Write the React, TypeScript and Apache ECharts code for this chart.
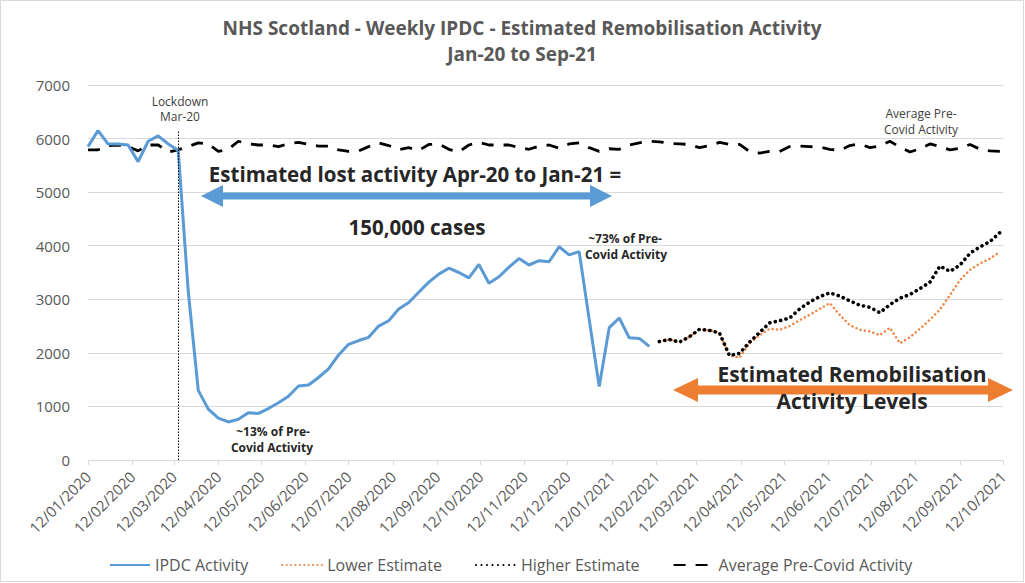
import React, { useEffect, useRef } from "react";
import * as echarts from "echarts";

// ---------- data ----------
const FIRST_WEEK = "2020-01-12";
const WEEK_COUNT = 92;
const weekDates: number[] = Array.from(
  { length: WEEK_COUNT },
  (_, i) => Date.parse(FIRST_WEEK + "T00:00:00Z") + i * 7 * 86400000
);

const monthTickLabels = [
  "12/01/2020", "12/02/2020", "12/03/2020", "12/04/2020", "12/05/2020", "12/06/2020",
  "12/07/2020", "12/08/2020", "12/09/2020", "12/10/2020", "12/11/2020", "12/12/2020",
  "12/01/2021", "12/02/2021", "12/03/2021", "12/04/2021", "12/05/2021", "12/06/2021",
  "12/07/2021", "12/08/2021", "12/09/2021", "12/10/2021",
];

const yTicks = [0, 1000, 2000, 3000, 4000, 5000, 6000, 7000];

// weekly IPDC activity (12/01/2020 .. 07/02/2021)
const ipdcActivity = [
  5850, 6150, 5900, 5900, 5880, 5570, 5950, 6050, 5900, 5780,
  3150, 1300, 950, 780, 710, 760, 880, 870, 960, 1070,
  1190, 1380, 1400, 1540, 1700, 1960, 2160, 2230, 2290, 2500,
  2600, 2820, 2940, 3130, 3320, 3470, 3580, 3500, 3400, 3650,
  3300, 3420, 3600, 3760, 3640, 3720, 3700, 3980, 3830, 3890,
  2630, 1370, 2470, 2650, 2280, 2270, 2120,
];

// weekly estimates (14/02/2021 .. 10/10/2021)
const lowerEstimate = [
  2210, 2250, 2200, 2300, 2440, 2420, 2370, 1950, 1910, 2180,
  2330, 2450, 2430, 2500, 2610, 2710, 2820, 2930, 2710, 2520,
  2430, 2400, 2330, 2470, 2180, 2290, 2450, 2620, 2810, 3080,
  3360, 3550, 3670, 3760, 3890,
];
const higherEstimate = [
  2210, 2250, 2200, 2300, 2440, 2420, 2370, 1950, 1990, 2200,
  2380, 2560, 2600, 2650, 2820, 2950, 3050, 3120, 3060, 2970,
  2890, 2850, 2750, 2900, 3020, 3090, 3200, 3320, 3620, 3520,
  3640, 3860, 3980, 4080, 4250,
];

const avgPreCovid = [
  5790, 5790, 5870, 5880, 5850, 5770, 5880, 5880, 5750, 5790,
  5850, 5920, 5900, 5760, 5800, 5950, 5900, 5880, 5880, 5850,
  5900, 5930, 5890, 5860, 5860, 5790, 5760, 5770, 5850, 5920,
  5870, 5790, 5830, 5780, 5890, 5900, 5800, 5750, 5880, 5930,
  5880, 5880, 5880, 5830, 5800, 5860, 5880, 5820, 5900, 5920,
  5830, 5760, 5810, 5800, 5880, 5920, 5950, 5940, 5910, 5900,
  5890, 5830, 5870, 5930, 5890, 5890, 5760, 5730, 5760, 5760,
  5850, 5860, 5850, 5840, 5800, 5780, 5870, 5900, 5830, 5860,
  5950, 5840, 5750, 5810, 5900, 5850, 5790, 5820, 5890, 5800,
  5770, 5760,
];

const LOCKDOWN_DATE = "2020-03-15";
const LOCKDOWN_TOP = 6150;

// ---------- helpers ----------
const parseDMY = (s: string) => {
  const [d, m, y] = s.split("/").map(Number);
  return Date.UTC(y, m - 1, d);
};
const pad = (n: number) => (n < 10 ? "0" + n : "" + n);
const fmtDMY = (t: number) => {
  const d = new Date(t);
  return pad(d.getUTCDate()) + "/" + pad(d.getUTCMonth() + 1) + "/" + d.getUTCFullYear();
};

const ipdcData = weekDates.map((t, i) => [t, i < ipdcActivity.length ? ipdcActivity[i] : null]);
const estStart = WEEK_COUNT - lowerEstimate.length;
const lowerData = weekDates.map((t, i) => [t, i >= estStart ? lowerEstimate[i - estStart] : null]);
const higherData = weekDates.map((t, i) => [t, i >= estStart ? higherEstimate[i - estStart] : null]);
const avgData = weekDates.map((t, i) => [t, avgPreCovid[i]]);

const dblArrow = (x1: number, x2: number, y: number, shaft: number, headL: number, headH: number) => [
  [x1, y],
  [x1 + headL, y - headH],
  [x1 + headL, y - shaft / 2],
  [x2 - headL, y - shaft / 2],
  [x2 - headL, y - headH],
  [x2, y],
  [x2 - headL, y + headH],
  [x2 - headL, y + shaft / 2],
  [x1 + headL, y + shaft / 2],
  [x1 + headL, y + headH],
];

const FONT = "Open Sans";
const GREY = "#595959";
const DARK = "#262626";

const txt = (x: number, y: number, text: string, size: number, bold: boolean, fill: string) => ({
  type: "text",
  x,
  y,
  z: 11,
  style: {
    text,
    fontSize: size,
    fontWeight: bold ? "bold" : "normal",
    fill,
    fontFamily: FONT,
    align: "center",
    verticalAlign: "middle",
  },
});

export default function App() {
  const ref = useRef<HTMLDivElement>(null);

  useEffect(() => {
    if (!ref.current) return;
    const chart = echarts.init(ref.current, undefined, { renderer: "svg" });
    const tickValues = monthTickLabels.map(parseDMY);
    const lockdownT = Date.parse(LOCKDOWN_DATE + "T00:00:00Z");

    chart.setOption({
      animation: false,
      backgroundColor: "#ffffff",
      textStyle: { fontFamily: FONT },
      grid: { left: 88, right: 22, top: 85, bottom: 123 },
      xAxis: {
        type: "value",
        min: tickValues[0],
        max: tickValues[tickValues.length - 1],
        axisLine: { show: true, lineStyle: { color: "#D9D9D9", width: 1 } },
        axisTick: {
          show: true,
          customValues: tickValues,
          length: 5,
          lineStyle: { color: "#D9D9D9" },
        },
        axisLabel: {
          customValues: tickValues,
          rotate: 45,
          margin: 14,
          fontSize: 15,
          color: GREY,
          fontFamily: FONT,
          formatter: (v: number) => fmtDMY(v),
        },
        splitLine: { show: false },
      },
      yAxis: {
        type: "value",
        min: yTicks[0],
        max: yTicks[yTicks.length - 1],
        interval: yTicks[1] - yTicks[0],
        axisLine: { show: false },
        axisTick: { show: false },
        axisLabel: {
          fontSize: 15,
          color: GREY,
          fontFamily: FONT,
          margin: 18,
          formatter: (v: number) => String(v),
        },
        splitLine: { lineStyle: { color: "#D9D9D9", width: 1 } },
      },
      legend: {
        bottom: 5,
        left: 104,
        itemWidth: 40,
        itemHeight: 12,
        itemGap: 33,
        itemStyle: { opacity: 0, borderWidth: 0 },
        textStyle: { fontSize: 16, color: GREY, fontFamily: FONT },
        data: ["IPDC Activity", "Lower Estimate", "Higher Estimate", "Average Pre-Covid Activity"],
      },
      series: [
        {
          name: "IPDC Activity",
          type: "line",
          data: ipdcData,
          showSymbol: false,
          symbol: "none",
          connectNulls: false,
          lineStyle: { color: "#5B9BD5", width: 3 },
          itemStyle: { color: "#5B9BD5" },
          z: 3,
          markLine: {
            silent: true,
            symbol: "none",
            label: { show: false },
            lineStyle: { color: "#000000", width: 1, type: [1.5, 1.5] },
            data: [
              [
                { coord: [lockdownT, 0] },
                { coord: [lockdownT, LOCKDOWN_TOP] },
              ],
            ],
          },
        },
        {
          name: "Lower Estimate",
          type: "line",
          data: lowerData,
          showSymbol: false,
          symbol: "none",
          lineStyle: { color: "#EE8646", width: 2.5, type: [0.1, 4.3], cap: "round" },
          itemStyle: { color: "#EE8646" },
          z: 3,
        },
        {
          name: "Higher Estimate",
          type: "line",
          data: higherData,
          showSymbol: false,
          symbol: "none",
          lineStyle: { color: "#000000", width: 3.6, type: [0.1, 5.4], cap: "round" },
          itemStyle: { color: "#000000" },
          z: 4,
        },
        {
          name: "Average Pre-Covid Activity",
          type: "line",
          data: avgData,
          showSymbol: false,
          symbol: "none",
          lineStyle: { color: "#000000", width: 2.8, type: [12, 10] },
          itemStyle: { color: "#000000" },
          z: 2,
        },
      ],
      graphic: [
        {
          type: "rect",
          shape: { x: 0.5, y: 0.5, width: 1023, height: 581 },
          style: { fill: "none", stroke: "#D9D9D9", lineWidth: 1 },
          silent: true,
          z: -1,
        },
        txt(522, 28, "NHS Scotland - Weekly IPDC - Estimated Remobilisation Activity", 19, true, GREY),
        txt(522, 54, "Jan-20 to Sep-21", 19, true, GREY),
        txt(180, 101, "Lockdown", 12, false, "#404040"),
        txt(180, 116, "Mar-20", 12, false, "#404040"),
        {
          type: "polygon",
          shape: { points: dblArrow(201, 612, 196, 7, 22, 11) },
          style: { fill: "#5B9BD5" },
          z: 10,
        },
        txt(415, 174, "Estimated lost activity Apr-20 to Jan-21 =", 20.5, true, DARK),
        txt(417, 227, "150,000 cases", 20.5, true, DARK),
        txt(273, 431, "~13% of Pre-", 12, true, DARK),
        txt(272, 447, "Covid Activity", 12, true, DARK),
        txt(625, 238, "~73% of Pre-", 12, true, DARK),
        txt(626, 254, "Covid Activity", 12, true, DARK),
        txt(921, 113, "Average Pre-", 12, false, "#404040"),
        txt(921, 129, "Covid Activity", 12, false, "#404040"),
        {
          type: "polygon",
          shape: { points: dblArrow(673, 1013, 390, 9, 25, 12) },
          style: { fill: "#ED7D31" },
          z: 10,
        },
        txt(852, 374, "Estimated Remobilisation", 21, true, DARK),
        txt(852, 401, "Activity Levels", 21, true, DARK),
      ],
    });

    return () => chart.dispose();
  }, []);

  return (
    <div
      ref={ref}
      style={{ position: "fixed", left: 0, top: 0, width: 1025, height: 583, background: "#fff" }}
    />
  );
}
